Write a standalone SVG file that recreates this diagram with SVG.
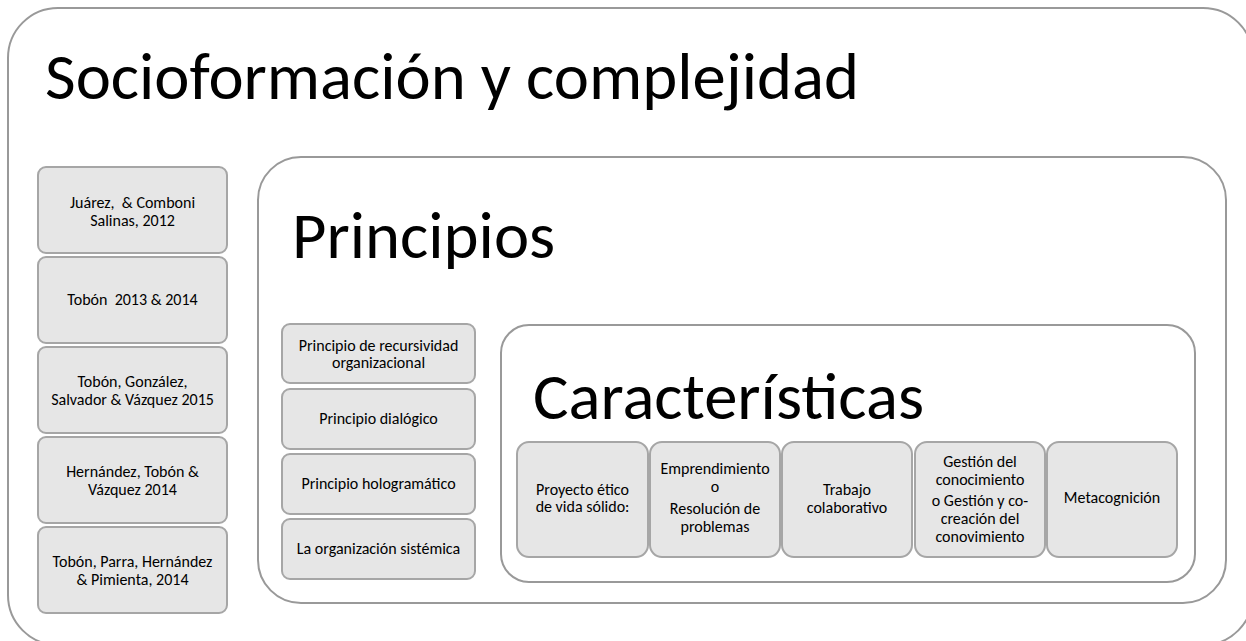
<svg xmlns="http://www.w3.org/2000/svg" width="1246" height="641" viewBox="0 0 1246 641">
<style>
text{font-family:Carlito,Lato,"Liberation Sans",sans-serif;fill:#000;text-anchor:middle}
.frame{fill:#fff;stroke:#999;stroke-width:2}
.box{fill:#e6e6e6;stroke:#a6a6a6;stroke-width:2}
.t{font-size:16px}
.title{font-size:66.7px;text-anchor:start}
</style>
<rect width="1246" height="641" fill="#fff"/>
<g id="socioformacion">
<rect class="frame" x="8" y="8" width="1245" height="637" rx="50"/>
<text class="title" x="45" y="99">Socioformación y complejidad</text>
</g>
<g id="autores">
<g id="a1"><rect class="box" x="38" y="167" width="189" height="86" rx="8"/><text class="t" x="132.5" y="208">Juárez,&#160; &amp; Comboni</text><text class="t" x="132.5" y="226">Salinas, 2012</text></g>
<g id="a2"><rect class="box" x="38" y="257" width="189" height="86" rx="8"/><text class="t" x="132.5" y="305">Tobón&#160; 2013 &amp; 2014</text></g>
<g id="a3"><rect class="box" x="38" y="347" width="189" height="86" rx="8"/><text class="t" x="132.5" y="387">Tobón, González,</text><text class="t" x="132.5" y="405">Salvador &amp; Vázquez 2015</text></g>
<g id="a4"><rect class="box" x="38" y="437" width="189" height="86" rx="8"/><text class="t" x="132.5" y="477">Hernández, Tobón &amp;</text><text class="t" x="132.5" y="495">Vázquez 2014</text></g>
<g id="a5"><rect class="box" x="38" y="527" width="189" height="86" rx="8"/><text class="t" x="132.5" y="567">Tobón, Parra, Hernández</text><text class="t" x="132.5" y="585">&amp; Pimienta, 2014</text></g>
</g>
<g id="principios">
<rect class="frame" x="258" y="157" width="968" height="446" rx="43"/>
<text class="title" x="292" y="258">Principios</text>
<g id="p1"><rect class="box" x="282" y="324" width="193" height="59" rx="8"/><text class="t" x="378.5" y="351">Principio de recursividad</text><text class="t" x="378.5" y="368">organizacional</text></g>
<g id="p2"><rect class="box" x="282" y="389" width="193" height="60" rx="8"/><text class="t" x="378.5" y="424">Principio dialógico</text></g>
<g id="p3"><rect class="box" x="282" y="454" width="193" height="60" rx="8"/><text class="t" x="378.5" y="489">Principio hologramático</text></g>
<g id="p4"><rect class="box" x="282" y="519" width="193" height="60" rx="8"/><text class="t" x="378.5" y="554">La organización sistémica</text></g>
</g>
<g id="caracteristicas">
<rect class="frame" x="501" y="325" width="694" height="257" rx="28"/>
<text class="title" x="533" y="419">Características</text>
<g id="c1"><rect class="box" x="517" y="442" width="131" height="115" rx="12"/><text class="t" x="582.5" y="495">Proyecto ético</text><text class="t" x="582.5" y="512">de vida sólido:</text></g>
<g id="c2"><rect class="box" x="650" y="442" width="130" height="115" rx="12"/><text class="t" x="715" y="474">Emprendimiento</text><text class="t" x="715" y="492">o</text><text class="t" x="715" y="514">Resolución de</text><text class="t" x="715" y="532">problemas</text></g>
<g id="c3"><rect class="box" x="782" y="442" width="130" height="115" rx="12"/><text class="t" x="847" y="495">Trabajo</text><text class="t" x="847" y="513">colaborativo</text></g>
<g id="c4"><rect class="box" x="915" y="442" width="130" height="115" rx="12"/><text class="t" x="980" y="467">Gestión del</text><text class="t" x="980" y="485">conocimiento</text><text class="t" x="980" y="506">o Gestión y co-</text><text class="t" x="980" y="524">creación del</text><text class="t" x="980" y="542">conovimiento</text></g>
<g id="c5"><rect class="box" x="1047" y="442" width="130" height="115" rx="12"/><text class="t" x="1112" y="503">Metacognición</text></g>
</g>
<g id="connectors"></g>
</svg>
